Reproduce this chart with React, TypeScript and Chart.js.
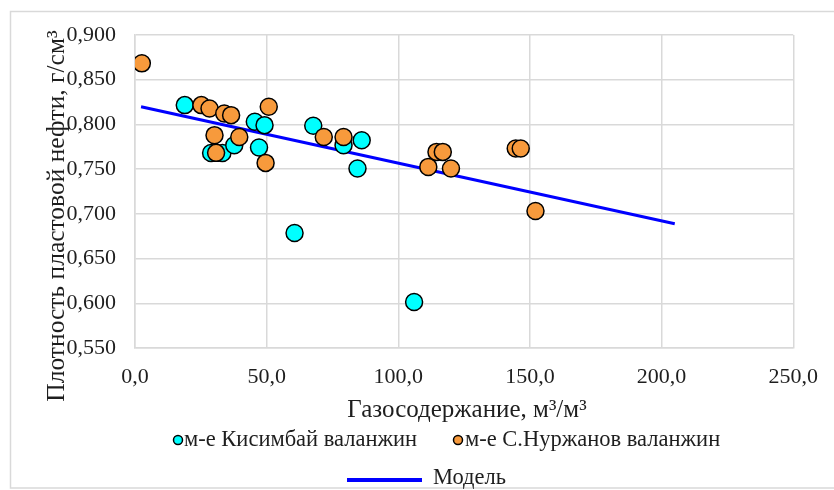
import React, { useEffect, useRef } from 'react';
import { Chart, registerables } from 'chart.js';

Chart.register(...registerables);

// --- data ---
const kisimbayX = [18.9, 28.9, 33.2, 37.7, 45.5, 49.2, 47.1, 60.6, 67.7, 79.2, 86.1, 84.5, 106.0];
const kisimbayY = [0.8216, 0.768, 0.768, 0.7768, 0.803, 0.7992, 0.7742, 0.6786, 0.7986, 0.7768, 0.7824, 0.7507, 0.6015];

const nurzhanovX = [2.6, 25.2, 28.3, 33.9, 36.5, 30.2, 30.8, 39.6, 50.8, 49.6, 71.7, 79.2, 111.4, 114.5, 116.9, 120.0, 144.6, 146.5, 152.1];
const nurzhanovY = [0.8683, 0.8216, 0.8179, 0.8123, 0.8104, 0.788, 0.7682, 0.786, 0.8197, 0.757, 0.786, 0.786, 0.7525, 0.7693, 0.7693, 0.7507, 0.7731, 0.7731, 0.7032];

const modelX = [2.3, 205.0];
const modelY = [0.8197, 0.6889];

const xTicks = [0, 50, 100, 150, 200, 250];
const yTicks = [0.55, 0.6, 0.65, 0.7, 0.75, 0.8, 0.85, 0.9];

const xTitle = 'Газосодержание, м³/м³';
const yTitle = 'Плотность пластовой нефти, г/см³';
const labelKisimbay = 'м-е Кисимбай валанжин';
const labelNurzhanov = 'м-е С.Нуржанов валанжин';
const labelModel = 'Модель';

const FONT = '"Liberation Serif", "Times New Roman", serif';
const CYAN = '#00ffff';
const ORANGE = '#f79a3c';
const BLUE = '#0000ff';
const GRID = '#d9d9d9';
const TEXT = '#1e1e1e';

export default function App() {
  const ref = useRef<HTMLCanvasElement>(null);

  useEffect(() => {
    const canvas = ref.current;
    if (!canvas) return;

    const overlay = {
      id: 'overlay',
      beforeDraw(chart: any) {
        const ctx = chart.ctx;
        ctx.save();
        ctx.strokeStyle = GRID;
        ctx.lineWidth = 1.5;
        ctx.strokeRect(10.5, 11.5, 840, 476.5);
        ctx.restore();
      },
      afterDraw(chart: any) {
        const ctx = chart.ctx;
        ctx.save();
        ctx.fillStyle = TEXT;
        // y title
        ctx.font = `25.5px ${FONT}`;
        ctx.textAlign = 'center';
        ctx.textBaseline = 'middle';
        ctx.save();
        ctx.translate(57, 216);
        ctx.rotate(-Math.PI / 2);
        ctx.fillText(yTitle, 0, 0);
        ctx.restore();
        // x title
        ctx.font = `25px ${FONT}`;
        ctx.fillText(xTitle, 467, 410);

        // legend
        ctx.font = `22.5px ${FONT}`;
        ctx.textAlign = 'left';
        const marker = (x: number, y: number, c: string) => {
          ctx.beginPath();
          ctx.arc(x, y, 4.5, 0, Math.PI * 2);
          ctx.fillStyle = c;
          ctx.fill();
          ctx.lineWidth = 1.5;
          ctx.strokeStyle = '#000';
          ctx.stroke();
        };
        marker(178, 440, CYAN);
        ctx.fillStyle = TEXT;
        ctx.fillText(labelKisimbay, 184, 440);
        marker(458, 440, ORANGE);
        ctx.fillStyle = TEXT;
        ctx.fillText(labelNurzhanov, 465, 440);

        ctx.beginPath();
        ctx.moveTo(347, 480);
        ctx.lineTo(422, 480);
        ctx.strokeStyle = BLUE;
        ctx.lineWidth = 4;
        ctx.stroke();
        ctx.fillStyle = TEXT;
        ctx.fillText(labelModel, 433, 478);
        ctx.restore();
      },
    };

    const chart = new Chart(canvas, {
      type: 'scatter',
      data: {
        datasets: [
          {
            type: 'line',
            label: labelModel,
            data: modelX.map((x, i) => ({ x, y: modelY[i] })),
            borderColor: BLUE,
            borderWidth: 3,
            pointRadius: 0,
            showLine: true,
            fill: false,
            order: 2,
          } as any,
          {
            label: labelKisimbay,
            data: kisimbayX.map((x, i) => ({ x, y: kisimbayY[i] })),
            backgroundColor: CYAN,
            borderColor: '#000',
            borderWidth: 1.5,
            pointRadius: 8.5,
            order: 1,
          },
          {
            label: labelNurzhanov,
            data: nurzhanovX.map((x, i) => ({ x, y: nurzhanovY[i] })),
            backgroundColor: ORANGE,
            borderColor: '#000',
            borderWidth: 1.5,
            pointRadius: 8.5,
            order: 0,
          },
        ],
      },
      options: {
        responsive: false,
        animation: false,
        layout: { padding: { left: 0, top: 35, right: 34, bottom: 82 } },
        plugins: { legend: { display: false }, tooltip: { enabled: false } },
        scales: {
          x: {
            type: 'linear',
            min: 0,
            max: 250,
            afterBuildTicks: (s: any) => {
              s.ticks = xTicks.map((v) => ({ value: v }));
            },
            afterFit: (s: any) => {
              s.height = 60;
            },
            grid: { color: GRID, lineWidth: 1.5, drawTicks: false },
            border: { color: GRID, width: 1.5 },
            ticks: {
              padding: 16,
              color: TEXT,
              font: { family: FONT, size: 22 },
              callback: (v: any) => Number(v).toFixed(1).replace('.', ','),
            },
          },
          y: {
            type: 'linear',
            min: 0.55,
            max: 0.9,
            afterBuildTicks: (s: any) => {
              s.ticks = yTicks.map((v) => ({ value: v }));
            },
            afterFit: (s: any) => {
              s.width = 135;
            },
            grid: { color: GRID, lineWidth: 1.5, drawTicks: false },
            border: { color: GRID, width: 1.5 },
            ticks: {
              padding: 19,
              color: TEXT,
              font: { family: FONT, size: 22 },
              callback: (v: any) => Number(v).toFixed(3).replace('.', ','),
            },
          },
        },
      },
      plugins: [overlay],
    });

    return () => chart.destroy();
  }, []);

  return (
    <div style={{ position: 'absolute', left: 0, top: 0, width: 834, height: 490 }}>
      <canvas ref={ref} width={834} height={490} style={{ display: 'block' }} />
    </div>
  );
}
